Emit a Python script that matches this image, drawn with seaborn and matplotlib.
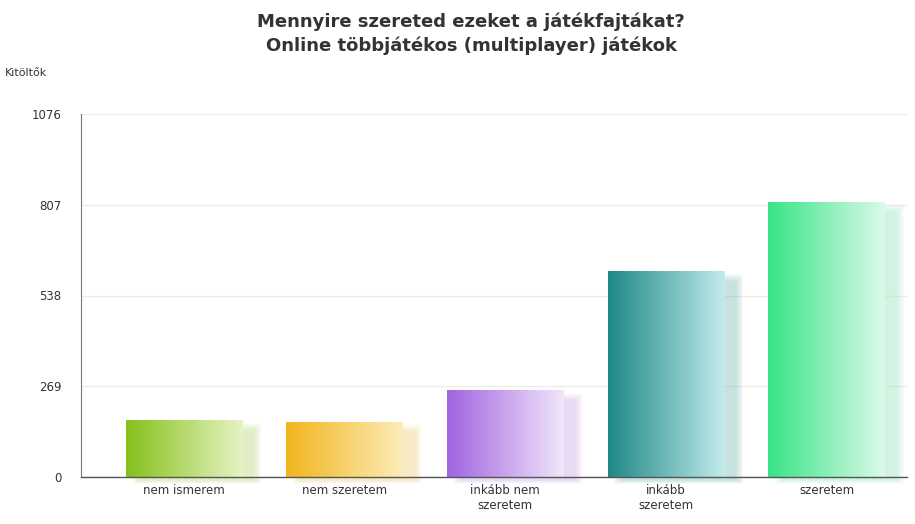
import numpy as np
import pandas as pd
import matplotlib
matplotlib.use("Agg")
import matplotlib.pyplot as plt
import seaborn as sns
from matplotlib.colors import LinearSegmentedColormap, to_rgb
from matplotlib.patches import Rectangle

# Data
categories = ["nem ismerem", "nem szeretem", "inkább nem\nszeretem", "inkább\nszeretem", "szeretem"]
counts = [168, 164, 257, 610, 816]
y_ticks = [0, 269, 538, 807, 1076]

# Gradient colours (dark left -> light right)
dark_colors = ["#86c11a", "#f2b51e", "#a064e0", "#1e8886", "#38e486"]
light_colors = ["#e6f3c4", "#fcecb8", "#f1e6fa", "#c2ebec", "#dcfae9"]

df = pd.DataFrame({"cat": categories, "n": counts})

sns.set_style("white")
plt.rcParams["font.family"] = ["DejaVu Sans"]

fig = plt.figure(figsize=(9.15, 5.24), dpi=100)
ax = fig.add_axes([81 / 915, (524 - 477) / 524, 826 / 915, 363 / 524])

sns.barplot(data=df, x="cat", y="n", ax=ax, width=0.725, color="white",
            edgecolor="none", zorder=3)

ax.set_ylim(0, 1076)
ax.set_xlim(-0.64, 4.5)

# gradient fill + soft shadow for each bar
grad = np.linspace(0, 1, 256).reshape(1, -1)
for p, c0, c1 in zip(ax.patches, dark_colors, light_colors):
    x0, w, h = p.get_x(), p.get_width(), p.get_height()
    shade = tuple(0.5 * a + 0.5 * b for a, b in zip(to_rgb(c0), to_rgb(c1)))
    # blurred shadow: shrinking translucent rectangles, shifted right/down
    n = 12
    for k in range(n):
        g = 0.05 * (1 - k / n)
        gy = 24 * (1 - k / n)
        sh = Rectangle((x0 + 0.09 - g, -8 - gy * 0.5),
                       w + 2 * g - 0.02, h - 24 + gy * 1.5,
                       facecolor=shade, alpha=0.035,
                       edgecolor="none", zorder=2, clip_on=False)
        ax.add_patch(sh)
    cmap = LinearSegmentedColormap.from_list("g", [c0, c1])
    im = ax.imshow(grad, cmap=cmap, aspect="auto", extent=[x0, x0 + w, 0, h],
                   zorder=4)
    im.set_clip_path(p)

ax.set_ylim(0, 1076)
ax.set_xlim(-0.64, 4.5)

ax.set_yticks(y_ticks)
ax.set_yticklabels([str(v) for v in y_ticks])
ax.yaxis.grid(True, color="#ececec", linewidth=1)
ax.set_axisbelow(True)
ax.tick_params(axis="both", length=0, labelsize=8.5, labelcolor="#333333")
ax.tick_params(axis="y", pad=14)
ax.tick_params(axis="x", pad=5)
ax.set_xlabel("")
ax.set_ylabel("")
ax.xaxis.set_zorder(6)

for s in ["top", "right"]:
    ax.spines[s].set_visible(False)
ax.spines["left"].set_color("#777777")
ax.spines["bottom"].set_color("#555555")
ax.spines["left"].set_linewidth(0.8)
ax.spines["bottom"].set_linewidth(1.0)
ax.spines["bottom"].set_zorder(5)

fig.text(471 / 915, 1 - 22 / 524, "Mennyire szereted ezeket a játékfajtákat?",
         ha="center", va="center", fontsize=13, fontweight="bold", color="#333333")
fig.text(471 / 915, 1 - 46 / 524, "Online többjátékos (multiplayer) játékok",
         ha="center", va="center", fontsize=13, fontweight="bold", color="#333333")
fig.text(5 / 915, 1 - 73 / 524, "Kitöltők", ha="left", va="center",
         fontsize=8, color="#333333")

fig.savefig("out.png", dpi=100)
